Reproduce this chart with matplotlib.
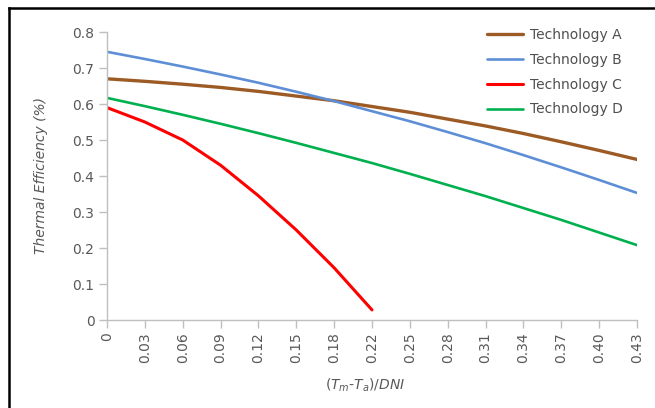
import matplotlib
matplotlib.use("Agg")
import matplotlib.pyplot as plt
from matplotlib.lines import Line2D

# --- DATA ---
x_labels = ["0", "0.03", "0.06", "0.09", "0.12", "0.15", "0.18", "0.22",
            "0.25", "0.28", "0.31", "0.34", "0.37", "0.40", "0.43"]
tech_a = [0.670, 0.663, 0.655, 0.646, 0.635, 0.622, 0.609, 0.593,
          0.577, 0.558, 0.539, 0.518, 0.495, 0.471, 0.446]
tech_b = [0.745, 0.725, 0.704, 0.682, 0.659, 0.634, 0.608, 0.580,
          0.552, 0.522, 0.491, 0.458, 0.424, 0.389, 0.353]
tech_c = [0.590, 0.550, 0.500, 0.430, 0.345, 0.250, 0.145, 0.028]
tech_d = [0.617, 0.594, 0.570, 0.545, 0.519, 0.492, 0.464, 0.436,
          0.406, 0.375, 0.344, 0.311, 0.278, 0.243, 0.208]
y_ticks = [0, 0.1, 0.2, 0.3, 0.4, 0.5, 0.6, 0.7, 0.8]
y_labels = ["0", "0.1", "0.2", "0.3", "0.4", "0.5", "0.6", "0.7", "0.8"]

GRAY = "#595959"
AXIS = "#BFBFBF"

plt.rcParams["font.family"] = ["DejaVu Sans"]
plt.rcParams["mathtext.fontset"] = "dejavusans"

W, H = 655, 408
fig = plt.figure(figsize=(W / 100, H / 100), dpi=100)
ax = fig.add_axes([107 / W, 1 - 320 / H, 530 / W, 288 / H])

idx = list(range(len(x_labels)))
ax.plot(idx, tech_a, color="#9C5B24", lw=2.4, label="Technology A", solid_capstyle="round")
ax.plot(idx, tech_b, color="#5E8FD6", lw=1.9, label="Technology B", solid_capstyle="round")
ax.plot(idx[:len(tech_c)], tech_c, color="#FF0000", lw=2.2, label="Technology C", solid_capstyle="round")
ax.plot(idx, tech_d, color="#00B04F", lw=1.9, label="Technology D", solid_capstyle="round")

ax.set_xlim(0, len(x_labels) - 1)
ax.set_ylim(0, 0.8)
ax.set_xticks(idx)
ax.set_xticklabels(x_labels, rotation=90, fontsize=10, color=GRAY)
ax.set_yticks(y_ticks)
ax.set_yticklabels(y_labels, fontsize=10, color=GRAY)
ax.tick_params(axis="both", direction="out", length=6, width=1, color=AXIS, pad=3)

for side in ("top", "right"):
    ax.spines[side].set_visible(False)
for side in ("left", "bottom"):
    ax.spines[side].set_color(AXIS)
    ax.spines[side].set_linewidth(1)

ax.set_xlabel(r"$(T_m$-$T_a)/DNI$", fontsize=10, color=GRAY, style="italic")
ax.xaxis.set_label_coords(0.487, -0.195)
ax.set_ylabel("Thermal Efficiency (%)", fontsize=10, color=GRAY, style="italic")
ax.yaxis.set_label_coords(-0.112, 0.5)

ax.legend(loc="upper left", bbox_to_anchor=(487 / W, 1 - 28 / H),
          bbox_transform=fig.transFigure, frameon=False, fontsize=10,
          handlelength=2.6, handletextpad=0.5, labelspacing=0.78,
          borderpad=0, borderaxespad=0, labelcolor="#505050")

# black frame visible along top and left edges
fig.add_artist(Line2D([8.5 / W, 1], [1 - 7.5 / H, 1 - 7.5 / H], color="black", lw=1.8))
fig.add_artist(Line2D([8.5 / W, 8.5 / W], [0, 1 - 7.5 / H], color="black", lw=1.8))

fig.savefig("out.png", dpi=100)
